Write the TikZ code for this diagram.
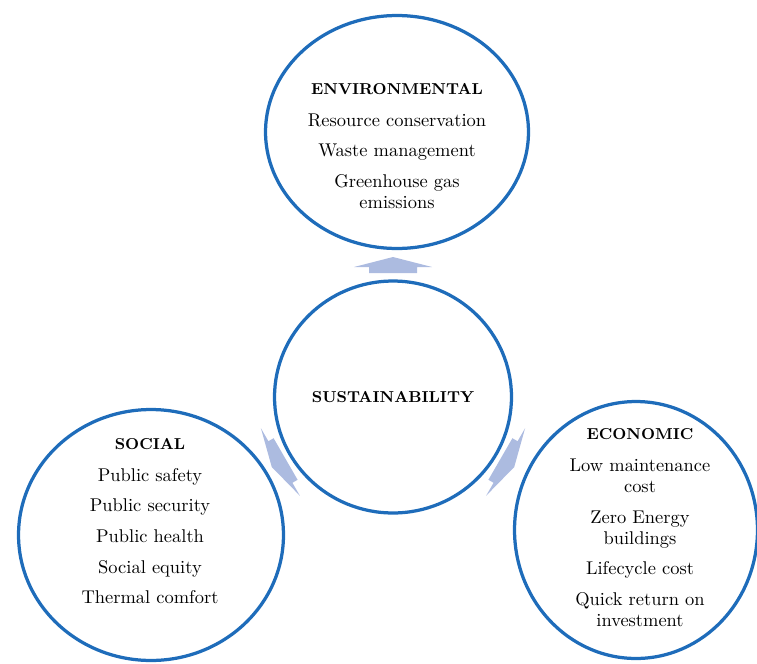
\documentclass[tikz,border=0pt]{standalone}
\usepackage{tikz}
\usetikzlibrary{shapes.geometric, positioning, calc}
\usepackage{xcolor}

\definecolor{ringblue}{RGB}{30,108,186}
\definecolor{arrowblue}{RGB}{172,187,224}

\begin{document}
\begin{tikzpicture}[x=0.02cm, y=-0.02cm,
    ring/.style={ellipse, draw=ringblue, line width=0.65mm, inner sep=0pt},
    items/.style={align=center, anchor=north, inner sep=0pt, font=\fontsize{10.5}{12}\selectfont}]
      \useasboundingbox (0,0) rectangle (757,663);

      \node[ring, minimum width=5.26cm, minimum height=4.66cm] (env) at (397,132) {};
      \node[ring, minimum width=4.74cm, minimum height=4.64cm] (sus) at (393,397) {};
      \node[ring, minimum width=5.30cm, minimum height=5.02cm] (soc) at (151,535) {};
      \node[ring, minimum width=4.86cm, minimum height=5.14cm] (eco) at (636,530) {};

      % block arrows out of the middle ring
      \foreach \ang in {90,210,330}
        \fill[arrowblue, shift={(sus.center)}, rotate=\ang] (124,-24) -- (130,-24) -- (130,-39) -- (140,0) -- (130,39) -- (130,24) -- (124,24) -- cycle;

      \node[font=\fontsize{9}{12}\selectfont\bfseries] (sustxt) at (393,397) {SUSTAINABILITY};

      \node[items] (envtxt) at (397,83) {{\fontsize{9}{12}\selectfont\bfseries ENVIRONMENTAL}\\[6.2pt]
        Resource conservation\\[5.4pt] Waste management\\[5.4pt] Greenhouse gas\\ emissions};
      \node[items] (soctxt) at (150,438) {{\fontsize{9}{12}\selectfont\bfseries SOCIAL}\\[6.2pt]
        Public safety\\[5.4pt] Public security\\[5.4pt] Public health\\[5.4pt] Social equity\\[5.4pt] Thermal comfort};
      \node[items] (ecotxt) at (640,428) {{\fontsize{9}{12}\selectfont\bfseries ECONOMIC}\\[6.2pt]
        Low maintenance\\ cost\\[5.4pt] Zero Energy\\ buildings\\[5.4pt] Lifecycle cost\\[5.4pt] Quick return on\\ investment};

    \end{tikzpicture}
\end{document}
